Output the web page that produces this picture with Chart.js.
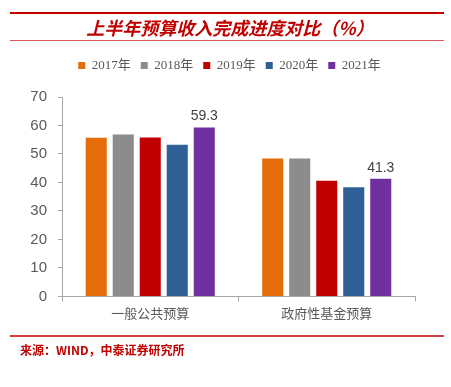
<!DOCTYPE html>
<html>
<head>
<meta charset="utf-8">
<script src="https://cdn.jsdelivr.net/npm/chart.js@4"></script>
<style>
  html, body { margin: 0; padding: 0; background: #fff; }
  #wrap { position: relative; width: 451px; height: 387px; }
</style>
</head>
<body>
<div id="wrap"><canvas id="budgetChart" width="451" height="387"></canvas></div>
<script>
// data
const categories = ['一般公共预算', '政府性基金预算'];
const years = ['2017年', '2018年', '2019年', '2020年', '2021年'];
const v2017 = [55.7, 48.4];
const v2018 = [56.8, 48.4];
const v2019 = [55.8, 40.6];
const v2020 = [53.2, 38.3];
const v2021 = [59.3, 41.3];
const yTicks = [0, 10, 20, 30, 40, 50, 60, 70];

const colors = ['#E46C0A', '#8C8C8C', '#C00000', '#2E6095', '#7030A0'];
const series = [v2017, v2018, v2019, v2020, v2021];

const titleText = '上半年预算收入完成进度对比（%）';
const sourceText = '来源：WIND，中泰证券研究所';

// title, rules and source note drawn around the chart
const decorPlugin = {
  id: 'decor',
  beforeDraw(chart) {
    const c = chart.ctx;
    c.save();
    c.fillStyle = '#fff';
    c.fillRect(0, 0, chart.width, chart.height);
    c.strokeStyle = '#C00000';
    c.lineWidth = 2;
    c.beginPath(); c.moveTo(10, 13); c.lineTo(444, 13); c.stroke();
    c.lineWidth = 1;
    c.strokeStyle = '#D9595C';
    c.beginPath(); c.moveTo(10, 40.5); c.lineTo(444, 40.5); c.stroke();
    c.strokeStyle = '#C00000';
    c.lineWidth = 1.5;
    c.beginPath(); c.moveTo(10, 336); c.lineTo(444, 336); c.stroke();

    c.fillStyle = '#C00000';
    c.font = 'italic bold 18px "Noto Sans CJK SC"';
    c.textAlign = 'center';
    c.textBaseline = 'middle';
    c.fillText(titleText, 230, 28);

    c.font = 'bold 12px "Noto Sans CJK SC"';
    c.textAlign = 'left';
    c.fillText(sourceText, 20, 350);
    c.restore();
  }
};

// value labels on the 2021 bars only
const labelPlugin = {
  id: 'lastLabels',
  afterDatasetsDraw(chart) {
    const c = chart.ctx;
    const idx = chart.data.datasets.length - 1;
    const meta = chart.getDatasetMeta(idx);
    c.save();
    c.fillStyle = '#404040';
    c.font = '14px "Liberation Sans"';
    c.textAlign = 'center';
    c.textBaseline = 'bottom';
    meta.data.forEach((bar, i) => {
      c.fillText(chart.data.datasets[idx].data[i].toFixed(1), bar.x, bar.y - 4);
    });
    c.restore();
  }
};

// extra space under the legend, and nudge it right like the original
const legendGap = {
  id: 'legendGap',
  beforeInit(chart) {
    const fit = chart.legend.fit;
    chart.legend.fit = function() {
      fit.bind(chart.legend)();
      this.height += 17;
    };
  },
  afterLayout(chart) {
    chart.legend.left += 22;
    chart.legend.right += 22;
    chart.legend.top += 2;
  }
};

const ctx = document.getElementById('budgetChart').getContext('2d');
new Chart(ctx, {
  type: 'bar',
  data: {
    labels: categories,
    datasets: years.map((y, i) => ({
      label: y,
      data: series[i],
      backgroundColor: colors[i],
      borderWidth: 0,
      categoryPercentage: 0.765,
      barPercentage: 0.78
    }))
  },
  options: {
    responsive: false,
    animation: false,
    layout: { padding: { top: 47, right: 36, bottom: 62, left: 0 } },
    plugins: {
      legend: {
        position: 'top',
        labels: {
          boxWidth: 7,
          boxHeight: 7,
          padding: 10,
          color: '#595959',
          font: { family: '"Liberation Serif", "Noto Sans CJK SC"', size: 13 }
        }
      },
      title: { display: false },
      tooltip: { enabled: false }
    },
    scales: {
      x: {
        grid: { display: true, drawOnChartArea: false, tickLength: 5, color: '#A6A6A6' },
        border: { color: '#A6A6A6' },
        ticks: {
          color: '#595959',
          padding: 4,
          font: { family: '"Noto Sans CJK SC"', size: 13 }
        }
      },
      y: {
        min: 0,
        max: 70,
        afterFit(scale) { scale.width = 62; },
        afterBuildTicks(scale) { scale.ticks = yTicks.map(v => ({ value: v })); },
        grid: { display: true, drawOnChartArea: false, tickLength: 4, color: '#A6A6A6' },
        border: { color: '#A6A6A6' },
        ticks: {
          color: '#595959',
          padding: 11,
          font: { family: '"Liberation Sans"', size: 15 }
        }
      }
    }
  },
  plugins: [decorPlugin, labelPlugin, legendGap]
});
</script>
</body>
</html>
